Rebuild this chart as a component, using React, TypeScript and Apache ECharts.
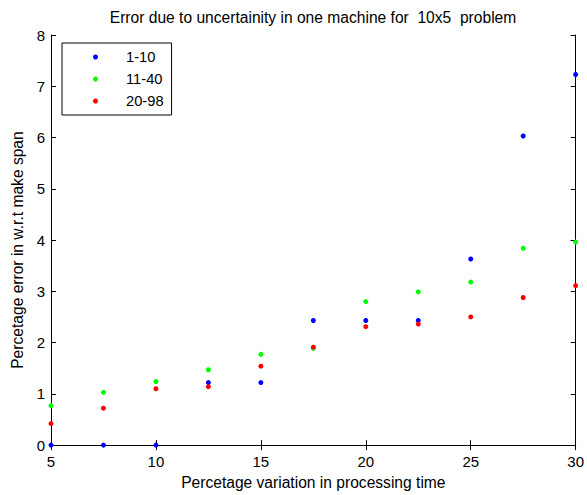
import React, { useEffect, useRef } from "react";
import * as echarts from "echarts";

const xValues = [5, 7.5, 10, 12.5, 15, 17.5, 20, 22.5, 25, 27.5, 30];
const series1_10 = [0, 0, 0, 1.22, 1.22, 2.43, 2.43, 2.43, 3.63, 6.03, 7.23];
const series11_40 = [0.77, 1.03, 1.24, 1.47, 1.77, 1.89, 2.8, 2.99, 3.18, 3.84, 3.96];
const series20_98 = [0.42, 0.72, 1.1, 1.14, 1.54, 1.91, 2.31, 2.36, 2.5, 2.88, 3.11];
const seriesNames = ["1-10", "11-40", "20-98"];
const seriesColors = ["#0000ff", "#00ff00", "#ff0000"];

const titleText = "Error due to uncertainity in one machine for  10x5  problem";
const xName = "Percetage variation in processing time";
const yName = "Percetage error in w.r.t make span";

const FONT = "Liberation Sans, Arial, Helvetica, sans-serif";

export default function App() {
  const ref = useRef<HTMLDivElement>(null);
  useEffect(() => {
    if (!ref.current) return;
    const chart = echarts.init(ref.current, undefined, { renderer: "svg" });
    const allSeries = [series1_10, series11_40, series20_98];
    const axisCommon = {
      axisLine: { show: true, lineStyle: { color: "#000", width: 1 } },
      axisTick: { show: true, inside: true, length: 5, lineStyle: { color: "#000" } },
      splitLine: { show: false },
    };
    chart.setOption({
      animation: false,
      backgroundColor: "#fff",
      title: {
        text: titleText,
        left: 313,
        textAlign: "center",
        top: 9,
        padding: 0,
        textStyle: { fontFamily: FONT, fontSize: 15.6, fontWeight: "normal", color: "#000" },
      },
      legend: {
        orient: "vertical",
        left: 62,
        top: 43,
        padding: [6, 8, 6, 31],
        itemGap: 6,
        itemWidth: 5,
        itemHeight: 5,
        icon: "circle",
        borderColor: "#000",
        borderWidth: 1,
        borderRadius: 0,
        backgroundColor: "#fff",
        textStyle: {
          fontFamily: FONT,
          fontSize: 14.7,
          color: "#000",
          lineHeight: 16,
          padding: [0, 0, 0, 23],
        },
        data: seriesNames,
      },
      grid: { left: 51, right: 8, top: 35, bottom: 47, containLabel: false },
      xAxis: [
        {
          type: "value",
          min: 5,
          max: 30,
          interval: 5,
          position: "bottom",
          name: xName,
          nameLocation: "middle",
          nameGap: 28,
          nameTextStyle: { fontFamily: FONT, fontSize: 15.6, color: "#000" },
          axisLabel: { fontFamily: FONT, fontSize: 15, color: "#000", margin: 9 },
          ...axisCommon,
        },
        {
          type: "value",
          min: 5,
          max: 30,
          interval: 5,
          position: "top",
          axisLabel: { show: false },
          ...axisCommon,
        },
      ],
      yAxis: [
        {
          type: "value",
          min: 0,
          max: 8,
          interval: 1,
          position: "left",
          name: yName,
          nameLocation: "middle",
          nameGap: 23,
          nameTextStyle: { fontFamily: FONT, fontSize: 15.6, color: "#000", padding: [0, 20, 0, 0] },
          axisLabel: { fontFamily: FONT, fontSize: 15, color: "#000", margin: 6 },
          ...axisCommon,
        },
        {
          type: "value",
          min: 0,
          max: 8,
          interval: 1,
          position: "right",
          axisLabel: { show: false },
          ...axisCommon,
        },
      ],
      series: seriesNames.map((name, i) => ({
        name,
        type: "scatter",
        xAxisIndex: 0,
        yAxisIndex: 0,
        symbol: "circle",
        symbolSize: 5,
        itemStyle: { color: seriesColors[i], opacity: 1 },
        data: xValues.map((x, j) => [x, allSeries[i][j]]),
        clip: false,
      })),
    });
    return () => chart.dispose();
  }, []);
  return <div ref={ref} style={{ width: 587, height: 495, position: "absolute", left: 0, top: 0 }} />;
}
